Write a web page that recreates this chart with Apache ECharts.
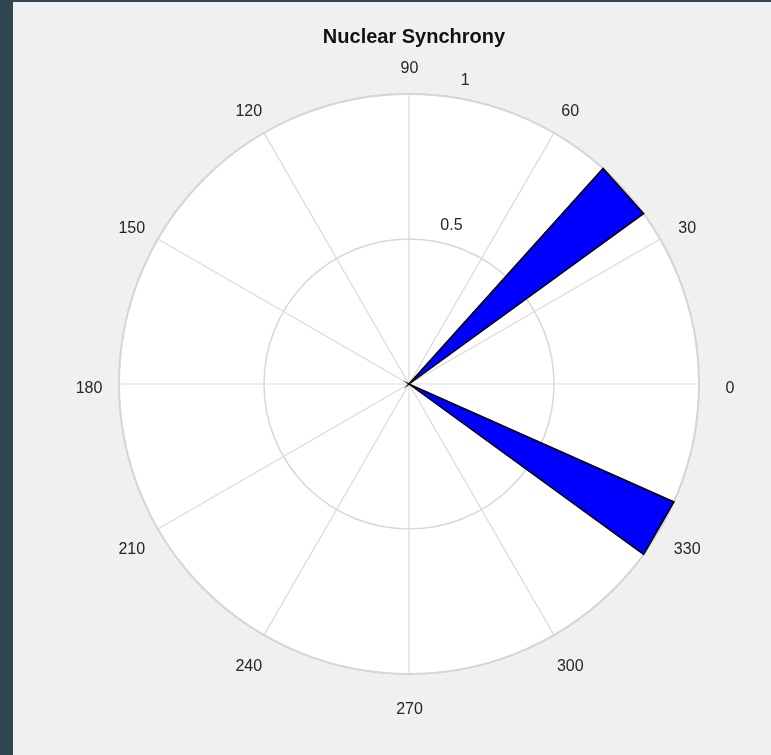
<!DOCTYPE html>
<html>
<head>
<meta charset="utf-8">
<script src="https://cdn.jsdelivr.net/npm/echarts@6/dist/echarts.min.js"></script>
<style>
html, body { margin: 0; padding: 0; width: 771px; height: 755px; background: #324651; overflow: hidden; }
#chart { position: absolute; left: 13px; top: 2px; width: 758px; height: 753px; background: #f0f0f0; }
</style>
</head>
<body>
<div id="chart"></div>
<script>
// Rose histogram of phase angles (degrees), normalised counts
const binStart = [36, 324];
const binEnd = [48, 336];
const binValue = [1, 1];

// Axis ticks
const angleTicks = [0, 30, 60, 90, 120, 150, 180, 210, 240, 270, 300, 330];
const radiusTicks = [0.5, 1];

const FONT = 'Liberation Sans, Arial, Helvetica, sans-serif';
const TEXT = '#262626';
const CENTER = [396, 382];
const LABEL_CENTER = [396.5, 387];   // angle labels sit a touch below the axis centre
const R = 290;

const chart = echarts.init(document.getElementById('chart'), null, { renderer: 'canvas' });

const wedges = binStart.map((s, i) => [s, binEnd[i], binValue[i]]);

// shared angle-axis scale: 0..360 counter-clockwise from the right
const angleScale = { type: 'value', min: 0, max: 360, interval: 30, startAngle: 0, clockwise: false };
const hidden = { axisLine: { show: false }, axisTick: { show: false }, axisLabel: { show: false }, splitLine: { show: false }, splitArea: { show: false } };

chart.setOption({
  backgroundColor: '#f0f0f0',
  animation: false,
  title: {
    text: 'Nuclear Synchrony',
    left: CENTER[0],
    top: 20,
    textAlign: 'center',
    textStyle: { fontFamily: FONT, fontSize: 20, fontWeight: 'bold', color: '#111' }
  },
  polar: [
    { center: CENTER, radius: R },            // 0: grid and wedges
    { center: CENTER, radius: [7.3, 300] },   // 1: radial tick labels along 82°
    { center: CENTER, radius: R },            // 2: white plot face
    { center: LABEL_CENTER, radius: R }       // 3: angle tick labels
  ],
  angleAxis: [
    Object.assign({}, angleScale, hidden, {
      polarIndex: 0,
      z: 1,
      axisLine: { show: true, lineStyle: { color: '#d6d6d6', width: 2 } },
      splitLine: { show: true, lineStyle: { color: '#dadada', width: 1.2 } }
    }),
    Object.assign({}, angleScale, hidden, { polarIndex: 1, startAngle: 82 }),
    Object.assign({}, angleScale, hidden, {
      polarIndex: 2,
      z: 0,
      splitArea: { show: true, areaStyle: { color: ['#ffffff', '#ffffff'] } }
    }),
    Object.assign({}, angleScale, hidden, {
      polarIndex: 3,
      z: 1,
      axisLabel: {
        show: true,
        margin: 29.5,
        formatter: v => (angleTicks.indexOf(v) >= 0 ? '{t|' + v + '}' : ''),
        rich: {
          // tiny box so each label is centred on its anchor point
          t: { width: 2, height: 2, lineHeight: 2, align: 'center', verticalAlign: 'middle',
               fontFamily: FONT, fontSize: 16, color: TEXT }
        }
      }
    })
  ],
  radiusAxis: [
    Object.assign({ polarIndex: 0, type: 'value', min: 0, max: 1, interval: 0.5, z: 1 }, hidden, {
      splitLine: { show: true, lineStyle: { color: '#d8d8d8', width: 1.5 } }
    }),
    Object.assign({ polarIndex: 1, type: 'value', min: 0, max: 1, interval: 0.5, z: 1 }, hidden, {
      axisLabel: {
        show: true,
        margin: -10,
        align: 'left',
        verticalAlign: 'bottom',
        fontFamily: FONT,
        fontSize: 16,
        color: TEXT,
        formatter: v => (radiusTicks.indexOf(v) >= 0 ? String(v) : '')
      }
    }),
    Object.assign({ polarIndex: 2, type: 'value', min: 0, max: 1 }, hidden),
    Object.assign({ polarIndex: 3, type: 'value', min: 0, max: 1 }, hidden)
  ],
  series: [
    {
      type: 'custom',
      coordinateSystem: 'polar',
      polarIndex: 0,
      z: 3,
      data: wedges,
      encode: { radius: 2, angle: [0, 1] },
      renderItem: function (params, api) {
        const a0 = api.value(0);
        const a1 = api.value(1);
        const r = api.value(2);
        const origin = api.coord([0, a0]);
        const p0 = api.coord([r, a0]);
        const p1 = api.coord([r, a1]);
        return {
          type: 'polygon',
          shape: { points: [origin, p0, p1] },
          style: { fill: '#0000ff', stroke: '#000000', lineWidth: 1.5 }
        };
      }
    }
  ]
});
</script>
</body>
</html>
